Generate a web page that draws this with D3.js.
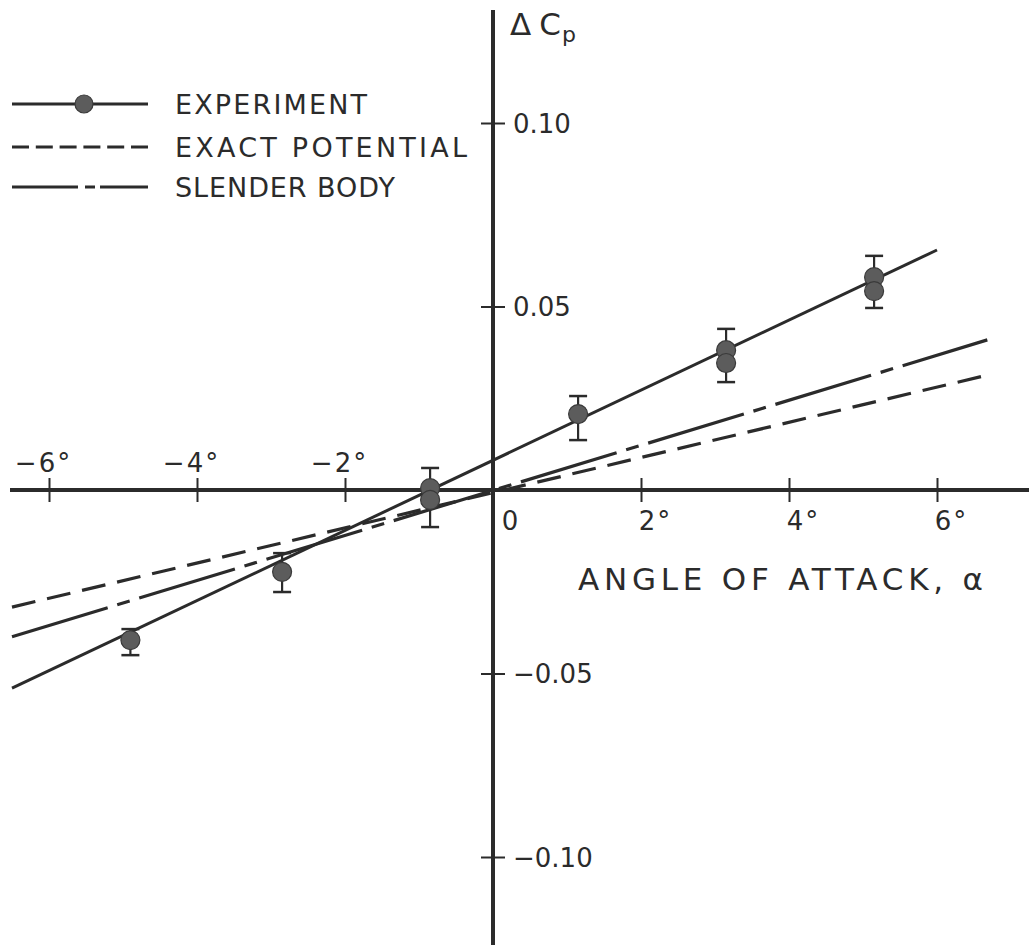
<!DOCTYPE html>
<html>
<head>
<meta charset="utf-8">
<script src="https://cdn.jsdelivr.net/npm/d3@7"></script>
<style>
    body{margin:0;background:#fff;}
    svg{display:block;}
    text{font-family:"DejaVu Sans",sans-serif;fill:#2b2b2b;}
</style>
</head>
<body>
<svg id="chart" width="1029" height="945"></svg>
<script>
/*
delta Cp vs angle of attack, experiment + two theories
 */

// experiment points (some angles have two readings)
var expAlpha=[-4.9,-2.85,-0.85,-0.85,1.15,3.15,3.15,5.15,5.15];
var expCp=[-0.0409,-0.0223,0.0005,-0.0027,0.0207,0.0381,0.0346,0.0580,0.0542];

// error bars, one per angle
var errAlpha=[-4.9,-2.85,-0.85,1.15,3.15,5.15];
var errHigh=[-0.0379,-0.0172,0.0060,0.0256,0.0439,0.0638];
var errLow=[-0.0450,-0.0278,-0.0101,0.0136,0.0294,0.0496];

// fitted / theory lines (end points)
var expLineAlpha=[-6.5,6.0];
var expLineCp=[-0.0540,0.0654];
var exactAlpha=[-6.5,6.68];
var exactCp=[-0.0319,0.0313];
var slenderAlpha=[-6.5,6.68];
var slenderCp=[-0.0400,0.0409];

var xTicks=[-6,-4,-2,2,4,6];
var xTickLabels=["\u22126\u00b0","\u22124\u00b0","\u22122\u00b0","2\u00b0","4\u00b0","6\u00b0"];
var yTicks=[-0.10,-0.05,0.05,0.10];
var yTickLabels=["\u22120.10","\u22120.05","0.05","0.10"];

var legendLabels=["EXPERIMENT","EXACT POTENTIAL","SLENDER BODY"];

var ink="#2b2b2b";

var svg=d3.select("#chart");

var x=d3.scaleLinear().domain([-6,6]).range([49,937]);
var y=d3.scaleLinear().domain([-0.1,0.1]).range([857,123]);

function zip(a,b){
    return a.map(function(d,i){return [d,b[i]]});
}
var line=d3.line()
    .x(function(d){return x(d[0])})
    .y(function(d){return y(d[1])});

//axes lines
svg.append("line")
    .attr("x1",10).attr("x2",1029)
    .attr("y1",y(0)).attr("y2",y(0))
    .attr("stroke",ink).attr("stroke-width",4);
svg.append("line")
    .attr("x1",x(0)).attr("x2",x(0))
    .attr("y1",10).attr("y2",945)
    .attr("stroke",ink).attr("stroke-width",4);

//x ticks
var xAxis=d3.axisBottom(x)
    .tickValues(xTicks)
    .tickSize(12)
    .tickFormat(function(d,i){return xTickLabels[i]});
var xg=svg.append("g")
    .attr("transform","translate(0,"+y(0)+")")
    .call(xAxis);
xg.select(".domain").remove();
xg.selectAll(".tick line")
    .attr("y1",-12).attr("y2",12)
    .attr("stroke",ink).attr("stroke-width",2);
xg.selectAll(".tick text")
    .attr("font-size",26)
    .attr("letter-spacing",2)
    .attr("fill",ink)
    .attr("x",function(d){return d<0?-6:14})
    .attr("y",function(d){return d<0?-18:40})
    .attr("dy",null);

//zero label
svg.append("text")
    .attr("x",x(0)+17).attr("y",y(0)+40)
    .attr("font-size",26)
    .attr("text-anchor","middle")
    .text("0");

//y ticks
var yAxis=d3.axisRight(y)
    .tickValues(yTicks)
    .tickSize(12)
    .tickFormat(function(d,i){return yTickLabels[i]});
var yg=svg.append("g")
    .attr("transform","translate("+x(0)+",0)")
    .call(yAxis);
yg.select(".domain").remove();
yg.selectAll(".tick line")
    .attr("x1",-12).attr("x2",12)
    .attr("stroke",ink).attr("stroke-width",2);
yg.selectAll(".tick text")
    .attr("font-size",26)
    .attr("fill",ink)
    .attr("x",20)
    .attr("dy","0.36em");

//axis titles
var cpLabel=svg.append("text")
    .attr("x",510).attr("y",35)
    .attr("font-size",31);
cpLabel.append("tspan").text("\u0394");
cpLabel.append("tspan").attr("dx",8).text("C");
cpLabel.append("tspan").attr("font-size",22).attr("dy",7).attr("dx",1).text("p");

svg.append("text")
    .attr("x",578).attr("y",590)
    .attr("font-size",31)
    .attr("textLength",405)
    .attr("lengthAdjust","spacing")
    .text("ANGLE OF ATTACK, \u03b1");

//theory lines
svg.append("path")
    .datum(zip(exactAlpha,exactCp))
    .attr("d",line)
    .attr("fill","none")
    .attr("stroke",ink).attr("stroke-width",3.2)
    .attr("stroke-dasharray","24,12");
svg.append("path")
    .datum(zip(slenderAlpha,slenderCp))
    .attr("d",line)
    .attr("fill","none")
    .attr("stroke",ink).attr("stroke-width",3.2)
    .attr("stroke-dasharray","100,10,13,10");

//experiment line
svg.append("path")
    .datum(zip(expLineAlpha,expLineCp))
    .attr("d",line)
    .attr("fill","none")
    .attr("stroke",ink).attr("stroke-width",3);

//error bars
var eb=svg.append("g").selectAll("g")
    .data(errAlpha.map(function(a,i){return {a:a,hi:errHigh[i],lo:errLow[i]}}))
    .enter().append("g");
eb.append("line")
    .attr("x1",function(d){return x(d.a)}).attr("x2",function(d){return x(d.a)})
    .attr("y1",function(d){return y(d.hi)}).attr("y2",function(d){return y(d.lo)})
    .attr("stroke",ink).attr("stroke-width",2.2);
[["hi"],["lo"]].forEach(function(k){
    eb.append("line")
        .attr("x1",function(d){return x(d.a)-9}).attr("x2",function(d){return x(d.a)+9})
        .attr("y1",function(d){return y(d[k[0]])}).attr("y2",function(d){return y(d[k[0]])})
        .attr("stroke",ink).attr("stroke-width",2.5);
});

//points
svg.append("g").selectAll("circle")
    .data(zip(expAlpha,expCp))
    .enter().append("circle")
    .attr("cx",function(d){return x(d[0])})
    .attr("cy",function(d){return y(d[1])})
    .attr("r",9.5)
    .attr("fill","#5c5c5c")
    .attr("stroke","#3a3a3a").attr("stroke-width",1.2);

//legend
var legendY=[104,147,187];
var legendDash=[null,"17,6.8","66,7,10,5,48"];
var legendWidth=[192,292,220];
var lg=svg.append("g").selectAll("g")
    .data(legendLabels)
    .enter().append("g")
    .attr("transform",function(d,i){return "translate(0,"+legendY[i]+")"});
lg.append("line")
    .attr("x1",12).attr("x2",148)
    .attr("stroke",ink).attr("stroke-width",3)
    .attr("stroke-dasharray",function(d,i){return legendDash[i]});
lg.filter(function(d,i){return i===0})
    .append("circle")
    .attr("cx",84).attr("r",9)
    .attr("fill","#5c5c5c")
    .attr("stroke","#3a3a3a").attr("stroke-width",1.2);
lg.append("text")
    .attr("x",175).attr("y",10)
    .attr("font-size",27)
    .attr("textLength",function(d,i){return legendWidth[i]})
    .attr("lengthAdjust","spacing")
    .text(function(d){return d});
</script>
</body>
</html>
